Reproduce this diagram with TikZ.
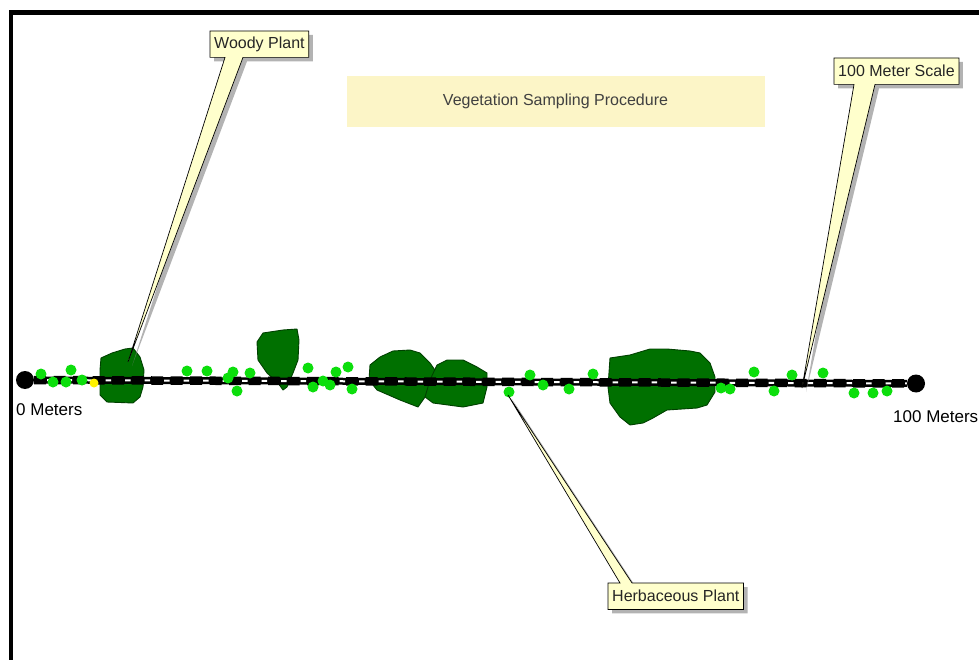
\documentclass[tikz,border=0pt]{standalone}
\usepackage{fontspec}
\setmainfont{Liberation Sans}
\usetikzlibrary{calc,shadows}

\definecolor{woodygreen}{RGB}{0,112,0}
\definecolor{herbgreen}{RGB}{12,222,12}
\definecolor{notepaper}{RGB}{255,255,204}
\definecolor{titlepaper}{RGB}{252,245,199}

\pgfdeclarelayer{tails}
\pgfdeclarelayer{front}
\pgfsetlayers{main,tails,front}

\tikzset{
  woody/.style={fill=woodygreen, draw=black!75!green, line width=0.9pt, line join=round},
  herb/.style={fill=herbgreen},
  calloutbox/.style={anchor=north west, inner xsep=4pt, inner ysep=0pt, minimum height=26pt,
    font=\fontsize{16}{18}\selectfont, text=black!85},
  callout/.style={fill=notepaper, draw=black, line width=0.7pt, line join=miter,
    drop shadow={shadow xshift=4pt, shadow yshift=-4pt, fill=black!50, opacity=0.6}},
  endpt/.style={circle, fill=black, inner sep=0pt, minimum size=18pt},
  meters/.style={inner sep=0pt, font=\fontsize{17}{20}\selectfont}
}

\begin{document}
\begin{tikzpicture}[x=1pt, y=-1pt]
  \useasboundingbox (0,0) rectangle (979,660);

  % frame
  \draw[line width=4.5pt] (11,664) -- (11,12.5) -- (983,12.5);

  % title
  \node[fill=titlepaper, minimum width=418pt, minimum height=51pt,
    font=\fontsize{16}{18}\selectfont, text=black!75] (title) at (555.5,101.5)
    {Vegetation Sampling Procedure};

  % woody plants
  \draw[woody] (101,358) -- (112,353) -- (125,349) -- (133,348) -- (140,357) -- (144,370)
    -- (143,387) -- (140,397) -- (133,403) -- (107,402) -- (100,395) -- (100,370) -- cycle;
  \draw[woody] (257,342) -- (263,333) -- (283,330) -- (297,329) -- (299,340) -- (298,360)
    -- (293,373) -- (287,387) -- (283,390) -- (278,383) -- (267,373) -- (258,360) -- cycle;
  \draw[woody] (370,365) -- (380,357) -- (393,351) -- (410,350) -- (420,353) -- (430,363)
    -- (437,373) -- (430,390) -- (418,407) -- (400,400) -- (377,390) -- (369,380) -- cycle;
  \draw[woody] (437,365) -- (447,360) -- (463,360) -- (477,367) -- (487,373) -- (487,387)
    -- (483,403) -- (463,407) -- (433,403) -- (425,397) -- (430,380) -- cycle;
  \draw[woody] (610,358) -- (630,355) -- (650,349) -- (667,349) -- (690,351) -- (700,353)
    -- (710,363) -- (715,377) -- (715,392) -- (707,405) -- (697,408) -- (667,410)
    -- (653,418) -- (643,423) -- (630,425) -- (620,417) -- (610,403) -- (608,387) -- cycle;

  % transect
  \node[endpt] (start) at (25,380) {};
  \node[endpt] (finish) at (916,383.5) {};
  \draw[line width=7pt] (start) -- (finish);
  \draw[line width=8.5pt, dash pattern=on 12pt off 7.5pt] (start) -- (finish);
  \draw[white, line width=2pt, dash pattern=on 5.5pt off 14pt, dash phase=6.5pt] (start) -- (finish);
  \node[meters, anchor=base west] (zero) at (16,415) {0 Meters};
  \node[meters, anchor=base west] (hundred) at (893,422) {100 Meters};

  % herbaceous plants
  \foreach \x/\y in {41/374, 53/382, 66/382, 71/370, 82/380, 187/371, 207/371, 228/378,
    233/372, 237/391, 250/373, 308/368, 313/387, 323/381, 330/385, 336/372, 348/367,
    352/389, 509/392, 530/375, 543/385, 569/389, 593/374, 721/388, 730/389, 754/372,
    774/391, 792/375, 823/373, 854/393, 873/393, 887/391}
    \fill[herb] (\x,\y) circle (5.5);
  \fill[yellow] (94,383) circle (4.5);

  % callouts
  \begin{pgfonlayer}{front}
    \node[calloutbox] (woodynote) at (210,31) {Woody Plant};
    \node[calloutbox] (scalenote) at (834,58) {100 Meter Scale};
    \node[calloutbox] (herbnote) at (608,583) {Herbaceous Plant};
  \end{pgfonlayer}

  \coordinate (woodytip) at (128,362);
  \coordinate (woodyl) at ($(woodynote.south west)+(15,0)$);
  \coordinate (woodyr) at ($(woodynote.south west)+(33,0)$);
  \coordinate (scaletip) at (802,388);
  \coordinate (scalel) at ($(scalenote.south west)+(20,0)$);
  \coordinate (scaler) at ($(scalenote.south west)+(41,0)$);
  \coordinate (herbtip) at (508,395);
  \coordinate (herbl) at ($(herbnote.north west)+(12,0)$);
  \coordinate (herbr) at ($(herbnote.north west)+(24,0)$);

  \begin{pgfonlayer}{tails}
    \draw[callout] (woodynote.north west) -- (woodynote.north east) -- (woodynote.south east)
      -- (woodyr) -- (woodytip) -- (woodyl) -- (woodynote.south west) -- cycle;
    \draw[callout] (scalenote.north west) -- (scalenote.north east) -- (scalenote.south east)
      -- (scaler) -- (scaletip) -- (scalel) -- (scalenote.south west) -- cycle;
    \draw[callout] (herbnote.south west) -- (herbnote.south east) -- (herbnote.north east)
      -- (herbr) -- (herbtip) -- (herbl) -- (herbnote.north west) -- cycle;
  \end{pgfonlayer}
\end{tikzpicture}
\end{document}
